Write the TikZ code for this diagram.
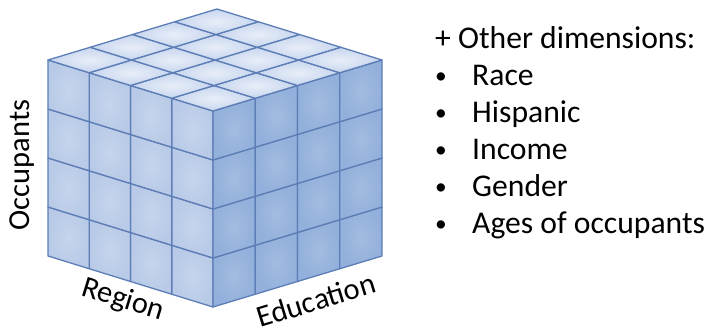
\documentclass[tikz,border=0pt]{standalone}
\usepackage{fontspec}
\setmainfont{Carlito}
\definecolor{cubeline}{HTML}{5C7DB5}
\definecolor{topface}{HTML}{C6D5EE}
\definecolor{leftface}{HTML}{B8CAE7}
\definecolor{rightface}{HTML}{92B0DB}
\begin{document}
\begin{tikzpicture}[x=0.03cm,y=-0.03cm,cell/.style={draw=cubeline,line width=1.1pt,line join=round},dimlabel/.style={font=\fontsize{26}{31}\selectfont,inner sep=0pt},listitem/.style={font=\fontsize{27}{32}\selectfont,anchor=base west,inner sep=0pt}]
\useasboundingbox (0,0) rectangle (706,333);
% left face (Region x Occupants)
\foreach \i in {0,...,3} \foreach \j in {0,...,3}
  \shadedraw[cell,inner color=leftface!80!white,outer color=leftface] (213-41.25*\i,307-12.75*\i-49*\j) -- ++(-41.25,-12.75) -- ++(0,-49) -- ++(41.25,12.75) -- cycle;
% right face (Education x Occupants)
\foreach \i in {0,...,3} \foreach \j in {0,...,3}
  \shadedraw[cell,inner color=rightface!85!white,outer color=rightface] (213+42.25*\i,307-12.75*\i-49*\j) -- ++(42.25,-12.75) -- ++(0,-49) -- ++(-42.25,12.75) -- cycle;
% top face
\foreach \i in {0,...,3} \foreach \j in {0,...,3}
  \shadedraw[cell,inner color=topface!40!white,outer color=topface] (213-41.25*\i+42.25*\j,111-12.75*\i-12.75*\j) -- ++(-41.25,-12.75) -- ++(42.25,-12.75) -- ++(41.25,12.75) -- cycle;
\node[dimlabel,rotate=90] (occ) at (22,165) {Occupants};
\node[dimlabel,rotate=-17] (reg) at (123,300) {Region};
\node[dimlabel,rotate=17] (edu) at (316,300) {Education};
\node[listitem] (other) at (435,48) {+ Other dimensions:};
\foreach \txt [count=\k] in {Race,Hispanic,Income,Gender,Ages of occupants} {
  \node[listitem,font=\fontsize{20}{24}\selectfont] (bul\k) at (435,46+37.1*\k) {\textbullet};
  \node[listitem] (item\k) at (472,48+37.1*\k) {\txt};
}
\end{tikzpicture}
\end{document}
